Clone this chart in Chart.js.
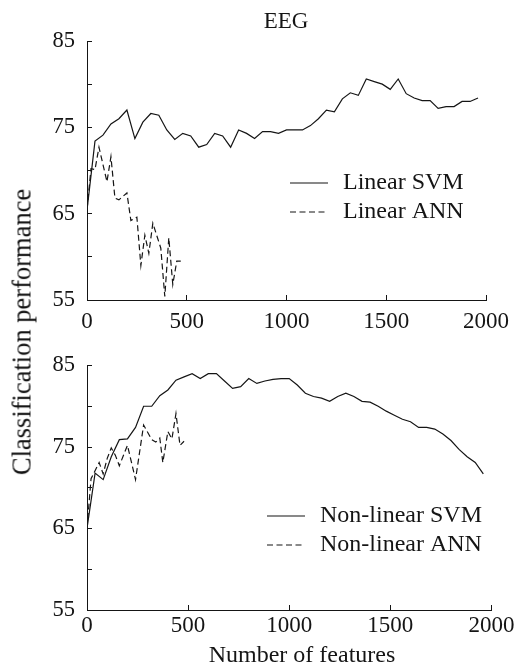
<!DOCTYPE html>
<html>
<head>
<meta charset="utf-8">
<script src="https://cdn.jsdelivr.net/npm/chart.js@4.4.1/dist/chart.umd.min.js"></script>
<style>
    html, body { margin: 0; padding: 0; background: #fff; }
    #wrap { position: relative; width: 522px; height: 670px; overflow: hidden; }
    .box { position: absolute; left: 0; width: 522px; height: 335px; }
    #yLabel {
        position: absolute; left: 22px; top: 332px;
        transform: translate(-50%, -50%) rotate(-90deg);
        font: 26.5px 'Liberation Serif', serif; color: #111; white-space: nowrap;
    }
</style>
</head>
<body>
<div id="wrap">
    <div class="box" style="top:0"><canvas id="topChart" width="522" height="335"></canvas></div>
    <div class="box" style="top:335px"><canvas id="bottomChart" width="522" height="335"></canvas></div>
    <div id="yLabel">Classification performance</div>
</div>
<script>
// Top panel (linear)
const topSvmFeatures = [0, 40, 80, 120, 160, 200, 240, 280, 320, 360, 400, 440, 480, 520, 560, 600, 640, 680, 720, 760,
    800, 840, 880, 920, 960, 1000, 1040, 1080, 1120, 1160, 1200, 1240, 1280, 1320, 1360, 1400, 1440, 1480, 1520, 1560,
    1600, 1640, 1680, 1720, 1760, 1800, 1840, 1880, 1920, 1960];
const topSvmValues = [65.4, 73.4, 74.1, 75.4, 76.0, 77.0, 73.7, 75.6, 76.6, 76.4, 74.7, 73.6, 74.3, 74.0, 72.7, 73.0, 74.3, 74.0, 72.7, 74.7,
    74.3, 73.7, 74.5, 74.5, 74.3, 74.7, 74.7, 74.7, 75.2, 76.0, 77.0, 76.8, 78.3, 79.0, 78.7, 80.6, 80.3, 80.0, 79.4, 80.6,
    78.9, 78.4, 78.1, 78.1, 77.2, 77.4, 77.4, 78.0, 78.0, 78.4];
const topAnnFeatures = [0, 20, 40, 60, 100, 120, 140, 160, 200, 220, 250, 270, 290, 310, 330, 370, 390, 410, 430, 450, 470];
const topAnnValues = [65.5, 70.2, 70.1, 72.7, 68.7, 71.6, 66.8, 66.6, 67.4, 64.2, 64.6, 59.0, 62.5, 60.4, 63.9, 61.0, 55.4, 62.2, 56.8, 59.5, 59.5];

// Bottom panel (non-linear)
const bottomSvmFeatures = topSvmFeatures;
const bottomSvmValues = [65.0, 71.8, 71.0, 73.8, 75.9, 76.0, 77.4, 80.0, 80.0, 81.3, 82.0, 83.2, 83.6, 84.0, 83.4, 84.0, 84.0, 83.1, 82.2, 82.4,
    83.4, 82.8, 83.1, 83.3, 83.4, 83.4, 82.6, 81.6, 81.2, 81.0, 80.6, 81.2, 81.6, 81.2, 80.6, 80.5, 80.0, 79.4, 78.9, 78.4,
    78.1, 77.4, 77.4, 77.2, 76.6, 75.8, 74.7, 73.8, 73.1, 71.7];
const bottomAnnFeatures = [0, 20, 60, 80, 100, 120, 140, 160, 200, 240, 280, 320, 340, 360, 375, 400, 420, 440, 460, 480];
const bottomAnnValues = [65.0, 71.1, 73.1, 71.7, 73.6, 74.9, 74.0, 72.7, 75.2, 71.0, 77.7, 75.9, 75.6, 76.1, 73.1, 76.9, 76.0, 79.1, 75.2, 75.7];

const xTicks = [0, 500, 1000, 1500, 2000];
const yTicks = [55, 60, 65, 70, 75, 80, 85];
const yLabelled = [55, 65, 75, 85];

const FONT = 'Liberation Serif';
const INK = '#151515';

function pairs(xs, ys) {
    return xs.map((x, i) => ({ x: x, y: ys[i] }));
}

// legend, title and x title drawn on the canvas at fixed spots
const textPlugin = {
    id: 'textPlugin',
    afterDraw(chart, args, opts) {
        const ctx = chart.ctx;
        ctx.save();
        ctx.fillStyle = INK;
        ctx.textBaseline = 'middle';
        (opts.texts || []).forEach(t => {
            ctx.font = t.size + 'px ' + FONT;
            ctx.textAlign = t.align || 'center';
            ctx.fillText(t.text, t.x, t.y);
        });
        const lg = opts.legend;
        if (lg) {
            chart.data.datasets.forEach((ds, i) => {
                const y = lg.y + i * lg.gap;
                ctx.strokeStyle = INK;
                ctx.lineWidth = 1.2;
                ctx.setLineDash(ds.borderDash || []);
                ctx.beginPath();
                ctx.moveTo(lg.x1, y);
                ctx.lineTo(lg.x2, y);
                ctx.stroke();
                ctx.setLineDash([]);
                ctx.font = '24px ' + FONT;
                ctx.textAlign = 'left';
                ctx.fillText(ds.label, lg.tx, y);
            });
        }
        ctx.restore();
    }
};

function makeChart(id, datasets, cfg) {
    return new Chart(document.getElementById(id), {
        type: 'line',
        data: { datasets: datasets },
        options: {
            responsive: false,
            animation: false,
            layout: { padding: { left: 0, right: 26, top: cfg.top, bottom: 0 } },
            elements: { point: { radius: 0 }, line: { tension: 0, borderWidth: 1.2 } },
            scales: {
                x: {
                    type: 'linear',
                    min: 0,
                    max: 2000,
                    afterBuildTicks: s => { s.ticks = xTicks.map(v => ({ value: v })); },
                    afterFit: s => { s.height = cfg.xHeight; },
                    ticks: {
                        color: INK,
                        font: { family: FONT, size: 23 },
                        padding: cfg.xPad,
                        maxRotation: 0,
                        callback: v => String(v)
                    },
                    grid: { drawOnChartArea: false, tickLength: -5, color: INK },
                    border: { color: INK, width: 1 }
                },
                y: {
                    min: 55,
                    max: 85,
                    afterBuildTicks: s => { s.ticks = yTicks.map(v => ({ value: v })); },
                    afterFit: s => { s.width = 87; },
                    ticks: {
                        color: INK,
                        font: { family: FONT, size: 22.5 },
                        padding: 17,
                        callback: v => (yLabelled.includes(v) ? String(v) : '')
                    },
                    grid: { drawOnChartArea: false, tickLength: -5, color: INK },
                    border: { color: INK, width: 1 }
                }
            },
            plugins: {
                legend: { display: false },
                tooltip: { enabled: false },
                textPlugin: { texts: cfg.texts, legend: cfg.legend }
            }
        },
        plugins: [textPlugin]
    });
}

makeChart('topChart', [
    { label: 'Linear SVM', data: pairs(topSvmFeatures, topSvmValues), borderColor: INK },
    { label: 'Linear ANN', data: pairs(topAnnFeatures, topAnnValues), borderColor: INK, borderDash: [6, 3.5] }
], {
    top: 41, xHeight: 35, xPad: 13,
    texts: [{ text: 'EEG', x: 286, y: 22, size: 23 }],
    legend: { x1: 290, x2: 328, tx: 343, y: 183, gap: 29 }
});

makeChart('bottomChart', [
    { label: 'Non-linear SVM', data: pairs(bottomSvmFeatures, bottomSvmValues), borderColor: INK },
    { label: 'Non-linear ANN', data: pairs(bottomAnnFeatures, bottomAnnValues), borderColor: INK, borderDash: [6, 3.5] }
], {
    top: 15.7, xHeight: 60, xPad: 7.6,
    texts: [{ text: 'Number of features', x: 302, y: 321, size: 24 }],
    legend: { x1: 267, x2: 305, tx: 320, y: 181, gap: 29 }
});
</script>
</body>
</html>
